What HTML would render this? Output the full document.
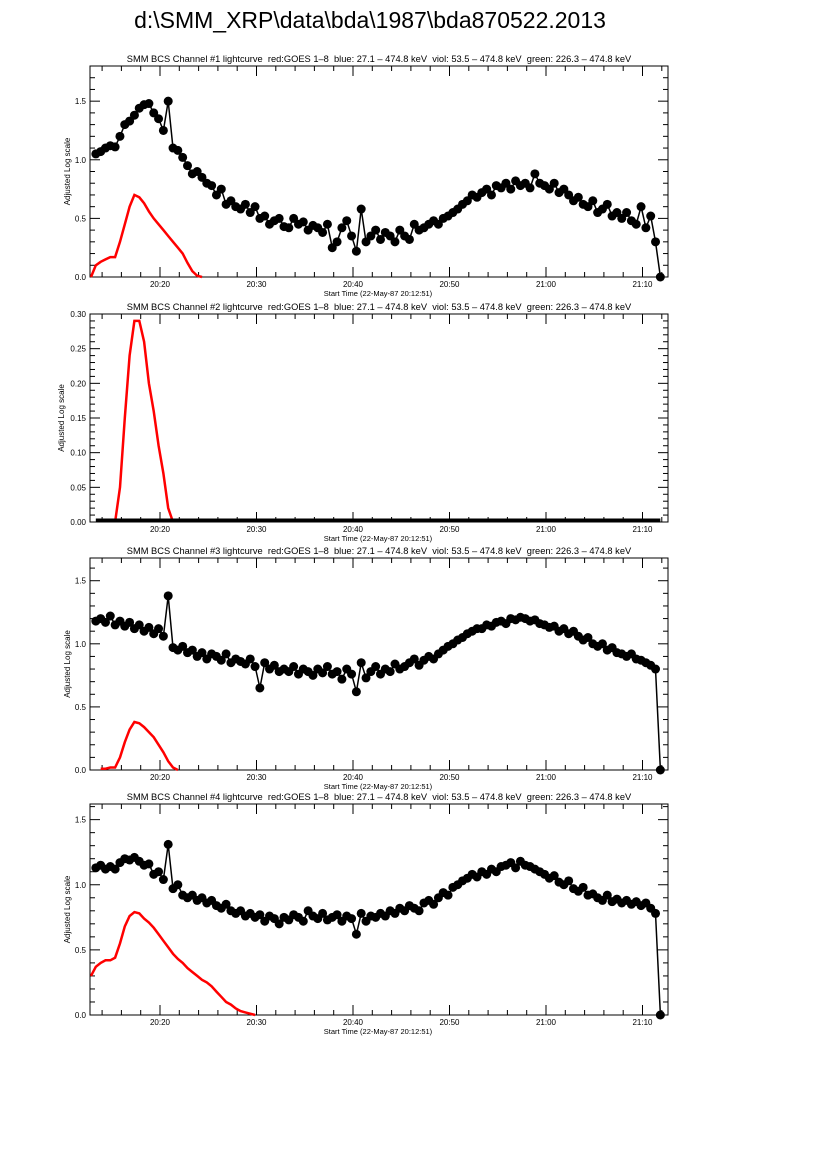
<!DOCTYPE html>
<html><head><meta charset="utf-8"><style>
body{margin:0;background:#fff;}
svg{display:block;font-family:"Liberation Sans",sans-serif;}
</style></head><body>
<svg id="c" width="826" height="1169">
<text x="370" y="28" font-size="23" text-anchor="middle">d:\SMM_XRP\data\bda\1987\bda870522.2013</text>
</svg>
<script>
const ch1Black=[1.05,1.07,1.10,1.12,1.11,1.20,1.30,1.33,1.38,1.44,
1.47,1.48,1.40,1.35,1.25,1.50,1.10,1.08,1.02,0.95,
0.88,0.90,0.85,0.80,0.78,0.70,0.75,0.62,0.65,0.60,
0.58,0.62,0.55,0.60,0.50,0.52,0.45,0.48,0.50,0.43,
0.42,0.50,0.45,0.47,0.40,0.44,0.42,0.38,0.45,0.25,
0.30,0.42,0.48,0.35,0.22,0.58,0.30,0.35,0.40,0.32,
0.38,0.35,0.30,0.40,0.35,0.32,0.45,0.40,0.42,0.45,
0.48,0.45,0.50,0.52,0.55,0.58,0.62,0.65,0.70,0.68,
0.72,0.75,0.70,0.78,0.76,0.80,0.75,0.82,0.78,0.80,
0.76,0.88,0.80,0.78,0.75,0.80,0.72,0.75,0.70,0.65,
0.68,0.62,0.60,0.65,0.55,0.58,0.62,0.52,0.55,0.50,
0.55,0.48,0.45,0.60,0.42,0.52,0.30,0.0];
const ch3Black=[1.18,1.20,1.17,1.22,1.15,1.18,1.14,1.17,1.12,1.15,
1.10,1.13,1.08,1.12,1.06,1.38,0.97,0.95,0.98,0.93,
0.95,0.90,0.93,0.88,0.92,0.90,0.87,0.92,0.85,0.88,
0.86,0.84,0.88,0.82,0.65,0.85,0.80,0.83,0.78,0.80,
0.78,0.82,0.76,0.80,0.78,0.75,0.80,0.77,0.82,0.76,
0.78,0.72,0.80,0.76,0.62,0.85,0.73,0.78,0.82,0.76,
0.80,0.78,0.84,0.80,0.82,0.85,0.88,0.83,0.87,0.90,
0.88,0.92,0.95,0.98,1.00,1.03,1.05,1.08,1.10,1.12,
1.12,1.15,1.14,1.17,1.18,1.16,1.20,1.19,1.21,1.20,
1.18,1.19,1.16,1.15,1.13,1.14,1.10,1.12,1.08,1.10,
1.06,1.03,1.05,1.00,0.98,1.00,0.95,0.97,0.93,0.92,
0.90,0.92,0.88,0.87,0.85,0.83,0.80,0.0];
const ch4Black=[1.13,1.15,1.12,1.14,1.12,1.17,1.20,1.19,1.21,1.18,
1.15,1.16,1.08,1.10,1.04,1.31,0.97,1.00,0.92,0.90,
0.92,0.88,0.90,0.86,0.88,0.84,0.82,0.85,0.80,0.78,
0.80,0.76,0.78,0.75,0.77,0.72,0.76,0.74,0.70,0.75,
0.73,0.77,0.75,0.72,0.80,0.76,0.74,0.78,0.73,0.75,
0.77,0.72,0.76,0.74,0.62,0.78,0.72,0.76,0.75,0.78,
0.76,0.80,0.78,0.82,0.80,0.84,0.82,0.80,0.86,0.88,
0.85,0.90,0.94,0.92,0.98,1.00,1.03,1.05,1.08,1.06,
1.10,1.08,1.12,1.10,1.14,1.15,1.17,1.13,1.18,1.15,
1.14,1.12,1.10,1.08,1.05,1.07,1.02,1.00,1.03,0.97,
0.95,0.98,0.92,0.93,0.90,0.88,0.92,0.87,0.89,0.86,
0.88,0.85,0.87,0.84,0.86,0.82,0.78,0.0];
const blackStart=0.5;
const ch2BlackLevel=0;
const red1=[0.0,0.10,0.13,0.15,0.17,0.17,0.30,0.45,0.60,0.70,0.68,0.63,0.56,0.50,0.45,0.40,0.35,0.30,0.25,0.20,0.12,0.05,0.01,0.0];
const red1Start=0;
const red2=[0,0.05,0.15,0.24,0.29,0.29,0.26,0.20,0.16,0.11,0.07,0.02,0.0];
const red2Start=2.5;
const red3=[0.01,0.01,0.02,0.02,0.10,0.22,0.32,0.38,0.37,0.34,0.30,0.26,0.20,0.14,0.07,0.02,0.0];
const red3Start=1;
const red4=[0.30,0.37,0.40,0.42,0.42,0.44,0.55,0.68,0.76,0.79,0.78,0.74,0.71,0.67,0.62,0.57,0.52,0.47,0.43,0.40,0.36,0.33,0.30,0.27,0.25,0.22,0.18,0.14,0.10,0.08,0.05,0.03,0.02,0.01,0.0];
const red4Start=0;
const xTickLabels=["20:20","20:30","20:40","20:50","21:00","21:10"];
const xTickMinutes=[7.15,17.15,27.15,37.15,47.15,57.15];

const NS="http://www.w3.org/2000/svg";
const svg=document.getElementById('c');
const X0=90,X1=668,TMAX=(668-91)/9.65;
function xs(t){return 91+t*9.65;}
function mk(tag,attrs,parent){const e=document.createElementNS(NS,tag);for(const k in attrs)e.setAttribute(k,attrs[k]);(parent||svg).appendChild(e);return e;}
const sub="  red:GOES 1\u20138  blue: 27.1 \u2013 474.8 keV  viol: 53.5 \u2013 474.8 keV  green: 226.3 \u2013 474.8 keV";
const panels=[
 {n:1,top:66,bot:277,ymax:1.80,ticks:[0,0.5,1.0,1.5],fmt:1,minor:0.1,black:ch1Black,red:red1,rs:red1Start,yt:70},
 {n:2,top:314,bot:522,ymax:0.30,ticks:[0,0.05,0.10,0.15,0.20,0.25,0.30],fmt:2,minor:0.01,black:null,red:red2,rs:red2Start,yt:64},
 {n:3,top:558,bot:770,ymax:1.68,ticks:[0,0.5,1.0,1.5],fmt:1,minor:0.1,black:ch3Black,red:red3,rs:red3Start,yt:70},
 {n:4,top:804,bot:1015,ymax:1.62,ticks:[0,0.5,1.0,1.5],fmt:1,minor:0.1,black:ch4Black,red:red4,rs:red4Start,yt:70}
];
panels.forEach(p=>{
 const g=mk('g',{});
 
 
 const ys=v=>p.bot-(v/p.ymax)*(p.bot-p.top);
 const t=mk('text',{x:(X0+X1)/2,y:p.top-4,'font-size':9.3,'text-anchor':'middle'},g);
 t.setAttribute('xml:space','preserve');
 t.style.whiteSpace='pre';
 t.textContent="SMM BCS Channel #"+p.n+" lightcurve"+sub;
 
 
 const frame=mk('rect',{x:X0,y:p.top,width:X1-X0,height:p.bot-p.top,fill:'none',stroke:'#000','stroke-width':1},g);
 
 
 const nmin=Math.floor(p.ymax/p.minor+1e-6);
 for(let i=0;i<=nmin;i++){const v=i*p.minor;if(v>p.ymax+1e-9)continue;const y=ys(v);
  const major=p.ticks.some(tk=>Math.abs(tk-v)<1e-6);const L=major?10:5;
  mk('line',{x1:X0,x2:X0+L,y1:y,y2:y,stroke:'#000'},g);mk('line',{x1:X1,x2:X1-L,y1:y,y2:y,stroke:'#000'},g);}
 p.ticks.forEach(v=>{const l=mk('text',{x:X0-4,y:ys(v)+3,'font-size':8,'text-anchor':'end'},g);l.textContent=v.toFixed(p.fmt);
  
  });
 for(let m=1.15;m<TMAX;m+=2){const x=xs(m);const major=xTickMinutes.some(q=>Math.abs(q-m)<1e-3);const L=major?10:5;
  mk('line',{x1:x,x2:x,y1:p.bot,y2:p.bot-L,stroke:'#000'},g);mk('line',{x1:x,x2:x,y1:p.top,y2:p.top+L,stroke:'#000'},g);}
 xTickLabels.forEach((s,i)=>{const l=mk('text',{x:xs(xTickMinutes[i]),y:p.bot+10,'font-size':8,'text-anchor':'middle'},g);l.textContent=s;
  
  });
 const xt=mk('text',{x:378,y:p.bot+19,'font-size':7.5,'text-anchor':'middle'},g);xt.textContent="Start Time (22-May-87 20:12:51)";
 
 
 const yt=mk('text',{x:0,y:0,'font-size':8,'text-anchor':'middle',transform:`translate(${p.yt},${(p.top+p.bot)/2}) rotate(-90)`},g);yt.textContent="Adjusted Log scale";
 
 
 const rp=p.red.map((v,i)=>xs(p.rs+i*0.5).toFixed(1)+','+ys(v).toFixed(1)).join(' ');
 const rl=mk('polyline',{points:rp,fill:'none',stroke:'#ff0000','stroke-width':2.5},g);
 
 
 if(p.black){
  const bp=p.black.map((v,i)=>xs(blackStart+i*0.5).toFixed(1)+','+ys(v).toFixed(1)).join(' ');
  const bl=mk('polyline',{points:bp,fill:'none',stroke:'#000','stroke-width':1.5},g);
  
  
  p.black.forEach((v,i)=>{const c=mk('circle',{cx:xs(blackStart+i*0.5),cy:ys(v),r:4.5,fill:'#000'},g);
   
   });
 } else {
  const y=ys(ch2BlackLevel);
  const bl=mk('line',{x1:xs(blackStart),x2:xs(blackStart+117*0.5),y1:y-1.5,y2:y-1.5,stroke:'#000','stroke-width':4},g);
  
  
 }
});
</script>
</body></html>
